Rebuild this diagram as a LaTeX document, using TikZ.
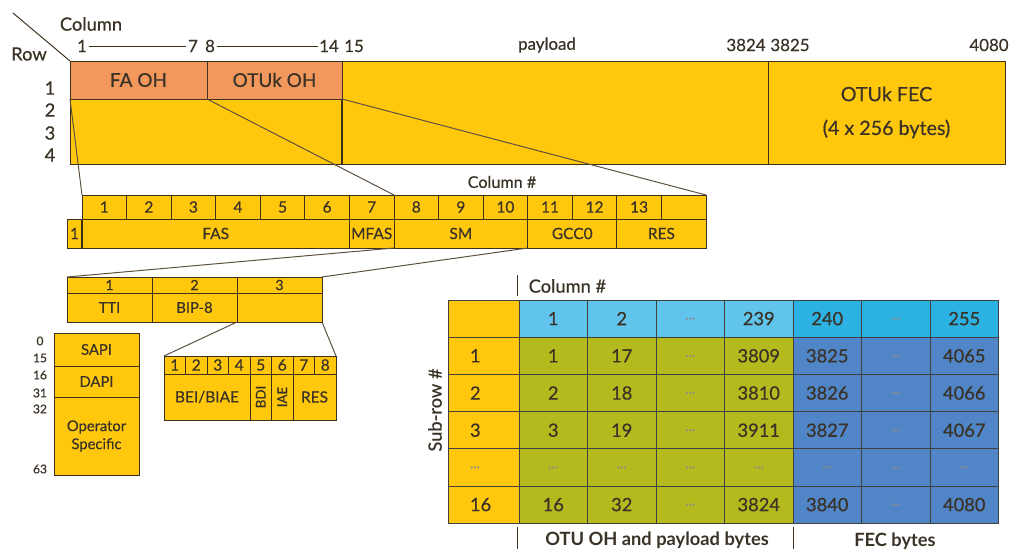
\documentclass[tikz,border=0pt]{standalone}
\usepackage{fontspec}
\setmainfont{Lato}[UprightFeatures={FakeBold=0.5}]
\usetikzlibrary{positioning}
\definecolor{otnyellow}{RGB}{255,200,12}
\definecolor{ohorange}{RGB}{243,152,92}
\definecolor{hdrlight}{RGB}{96,196,236}
\definecolor{hdrdark}{RGB}{44,178,226}
\definecolor{payolive}{RGB}{180,186,30}
\definecolor{fecblue}{RGB}{80,134,200}
\definecolor{edge}{RGB}{62,48,28}
\definecolor{ink}{RGB}{58,50,38}
\newlength{\px}
\setlength{\px}{0.025cm}
\newcommand{\fsz}[1]{\fontsize{#1}{#1}\selectfont}
\newcommand{\gdots}{{\color{black!45}\fsz{10}...}}

\begin{document}
\begin{tikzpicture}[x=0.025cm, y=-0.025cm,
    box/.style={draw=edge, fill=otnyellow, line width=0.6pt, inner sep=0pt, outer sep=0pt, anchor=north west, text=ink},
    ohbox/.style={box, fill=ohorange, font=\fsz{13.5}},
    zoomline/.style={draw=edge!85, line width=0.7pt},
    lbl/.style={text=ink, inner sep=1pt},
    tcell/.style={box, draw=black!75, minimum width=68.5\px, minimum height=37.2\px, font=\fsz{13}},
    hdra/.style={tcell, fill=hdrlight},
    hdrb/.style={tcell, fill=hdrdark},
    pay/.style={tcell, fill=payolive},
    fecc/.style={tcell, fill=fecblue},
    rowhd/.style={tcell, minimum width=71\px, text width=27\px, inner xsep=22\px, align=left}
]
\useasboundingbox (0,0) rectangle (1018,552);

% OTUk frame
\node[ohbox, minimum width=137\px, minimum height=38\px] (faoh) at (70,61) {FA OH};
\node[ohbox, minimum width=135\px, minimum height=38\px] (otuoh) at (207,61) {OTUk OH};
\node[box, minimum width=272\px, minimum height=65\px] (ohrest) at (70,99) {};
\node[box, minimum width=426\px, minimum height=103\px] (payload) at (342,61) {};
\node[box, minimum width=237\px, minimum height=103\px, align=center, font=\fontsize{14}{24}\selectfont] (fec) at (768,61) {OTUk FEC\\(4 x 256 bytes)};
\draw[edge, line width=1.4pt] (ohrest.north east) -- (ohrest.south east);

% Row / column labels
\node[lbl, font=\fsz{13}] (collbl) at (91,24) {Column};
\node[lbl, font=\fsz{13}] (rowlbl) at (29,54) {Row};
\coordinate (rc) at (13,13);
\draw[edge, line width=0.7pt] (rc) -- (faoh.north west);
\begin{scope}[every node/.style={lbl, font=\fsz{12}}]
\node (n1) at (82,46) {1};
\node (n7) at (193,46) {7};
\node (n8) at (210,46) {8};
\node (n14) at (329,46) {14};
\node (n15) at (354,46) {15};
\node (npay) at (547,45) {payload};
\node (n3824) at (746,45) {3824};
\node (n3825) at (790,45) {3825};
\node (n4080) at (989,45) {4080};
\end{scope}
\draw[edge, line width=0.7pt] (n1.east) -- (n7.west);
\draw[edge, line width=0.7pt] (n8.east) -- (n14.west);
\foreach \r/\y in {1/88,2/110,3/133,4/155}
  \node[lbl, font=\fsz{13}] (row\r) at (50,\y) {\r};

% Row 1 overhead, columns 1-14
\node[lbl, font=\fsz{11.5}] (colnum) at (502,182) {Column \#};
\foreach \i in {1,...,13}
  \node[box, font=\fsz{11}, minimum width=44.57\px, minimum height=24\px] (c\i) at ({82+44.57*(\i-1)},195) {\i};
\node[box, minimum width=44.57\px, minimum height=24\px] (c14) at ({82+44.57*13},195) {};
\begin{scope}[every node/.style={box, font=\fsz{11}, minimum height=29\px}]
\node[minimum width=15\px] (one) at (67,219) {1};
\node[minimum width=267.4\px] (fas) at (82,219) {FAS};
\node[minimum width=44.6\px] (mfas) at (349.4,219) {MFAS};
\node[minimum width=133.7\px] (sm) at (394,219) {SM};
\node[minimum width=89.1\px] (gcc) at (527.7,219) {GCC0};
\node[minimum width=89.2\px] (res) at (616.8,219) {RES};
\end{scope}
\draw[edge, line width=1.2pt] (one.north east) -- (one.south east);
\draw[zoomline] (faoh.south west) -- (c1.north west);
\draw[zoomline] (faoh.south east) -- (c7.north east);
\draw[zoomline] (otuoh.south east) -- (c14.north east);

% SM bytes
\foreach \i/\x in {1/67,2/152,3/237}
  \node[box, font=\fsz{10}, minimum width=85\px, minimum height=16\px] (sn\i) at (\x,277) {\i};
\begin{scope}[every node/.style={box, font=\fsz{10.5}, minimum width=85\px, minimum height=29\px}]
\node (tti) at (67,293) {TTI};
\node (bip) at (152,293) {BIP-8};
\node (smb) at (237,293) {};
\end{scope}
\draw[zoomline] (sm.south west) -- (sn1.north west);
\draw[zoomline] (sm.south east) -- (sn3.north east);

% TTI structure
\begin{scope}[every node/.style={box, font=\fsz{10.5}, minimum width=85\px}]
\node[minimum height=33\px] (sapi) at (54,333) {SAPI};
\node[minimum height=31\px] (dapi) at (54,366) {DAPI};
\node[minimum height=78\px, align=center, font=\fontsize{10.5}{12.8}\selectfont] (opsp) at (54,397) {Operator\\Specific};
\end{scope}
\foreach \v/\y in {0/341,15/358,16/375,31/393,32/409,63/469}
  \node[lbl, font=\fsz{8.5}] (tb\v) at (40,\y) {\v};

% byte 3 bits
\foreach \i in {1,...,8}
  \node[box, font=\fsz{11}, minimum width=21.5\px, minimum height=18\px] (bit\i) at ({164+21.5*(\i-1)},356) {\i};
\begin{scope}[every node/.style={box, font=\fsz{11}, minimum height=46\px}]
\node[minimum width=86\px] (bei) at (164,374) {BEI/BIAE};
\node[minimum width=21.5\px, font=\fsz{9.5}] (bdi) at (250,374) {\rotatebox{90}{BDI}};
\node[minimum width=21.5\px, font=\fsz{9.5}] (iae) at (271.5,374) {\rotatebox{90}{IAE}};
\node[minimum width=43\px] (bres) at (293,374) {RES};
\end{scope}
\draw[zoomline] (smb.south west) -- (bit1.north west);
\draw[zoomline] (smb.south east) -- (bit8.north east);

% FEC sub-row table
\node[rowhd] (t0-0) at (448,300) {};
\foreach \c/\v in {1/1,2/2,3/\gdots,4/239}
  \node[hdra] (t0-\c) at ({519+68.5*(\c-1)},300) {\v};
\foreach \c/\v in {5/240,6/\gdots,7/255}
  \node[hdrb] (t0-\c) at ({519+68.5*(\c-1)},300) {\v};
\foreach \r/\s/\a/\b/\d/\e/\f in {1/1/1/17/3809/3825/4065,2/2/2/18/3810/3826/4066,3/3/3/19/3911/3827/4067,5/16/16/32/3824/3840/4080} {
  \node[rowhd] (t\r-0) at (448,{300+37.2*\r}) {\s};
  \node[pay] (t\r-1) at (519,{300+37.2*\r}) {\a};
  \node[pay] (t\r-2) at (587.5,{300+37.2*\r}) {\b};
  \node[pay] (t\r-3) at (656,{300+37.2*\r}) {\gdots};
  \node[pay] (t\r-4) at (724.5,{300+37.2*\r}) {\d};
  \node[fecc] (t\r-5) at (793,{300+37.2*\r}) {\e};
  \node[fecc] (t\r-6) at (861.5,{300+37.2*\r}) {\gdots};
  \node[fecc] (t\r-7) at (930,{300+37.2*\r}) {\f};
}
\node[rowhd] (t4-0) at (448,{300+37.2*4}) {\gdots};
\foreach \c in {1,...,4}
  \node[pay] (t4-\c) at ({519+68.5*(\c-1)},{300+37.2*4}) {\gdots};
\foreach \c in {5,...,7}
  \node[fecc] (t4-\c) at ({519+68.5*(\c-1)},{300+37.2*4}) {\gdots};

% table labels
\draw[edge, line width=0.7pt] (517,275) -- (517,296);
\node[lbl, anchor=west, font=\fsz{13}] (tcol) at (527,286) {Column \#};
\node[lbl, rotate=90, font=\fsz{13}] (subrow) at (435,410) {Sub-row \#};
\draw[edge, line width=0.7pt] (517,527) -- (517,549);
\draw[edge, line width=0.7pt] (793,527) -- (793,549);
\node[lbl, font=\bfseries\fsz{13}] (otubytes) at (657,540) {OTU OH and payload bytes};
\node[lbl, font=\bfseries\fsz{13}] (fecbytes) at (895,541) {FEC bytes};

\end{tikzpicture}
\end{document}
